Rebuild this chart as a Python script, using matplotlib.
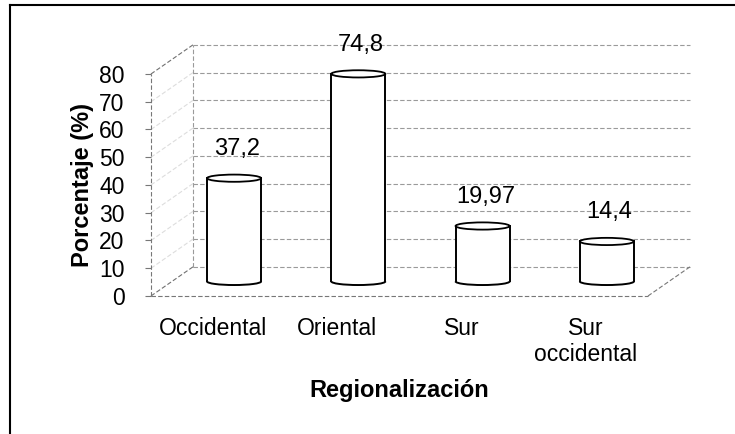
#!/usr/bin/env python
# -*- coding: utf-8 -*-

""" Regionalizacion - cylinder chart with a fake 3d box """

import matplotlib
matplotlib.use('Agg')
import matplotlib.pyplot as plt
from matplotlib.lines import Line2D
from matplotlib.patches import Rectangle, Ellipse, Arc

CATEGORIES = ['Occidental', 'Oriental', 'Sur', 'Sur\noccidental']
VALUES = [37.2, 74.8, 19.97, 14.4]
VALUE_LABELS = ['37,2', '74,8', '19,97', '14,4']
Y_TICKS = [0, 10, 20, 30, 40, 50, 60, 70, 80]

X_LABEL = 'Regionalización'
Y_LABEL = 'Porcentaje (%)'

FONT = 'Liberation Sans'
GRID_COLOR = '#9a9a9a'
GRID_STYLE = (0, (4, 2))

# depth of the 3d box, in category units and value units
DEPTH_X = 0.338
DEPTH_Y = 10.5
BAR_WIDTH = 0.435
CAP_HEIGHT = 2.6


def grid_line(ax, xs, ys, color=GRID_COLOR, lw=0.8):
    """ Dashed gray line drawn outside the clip box too """
    ax.add_line(Line2D(xs, ys, color=color, lw=lw, linestyle=GRID_STYLE,
                       clip_on=False, zorder=1))


def draw_walls(ax, n_cat):
    """ Back wall, side wall and floor of the box """
    x0, x1 = -0.5, n_cat - 0.5
    top = Y_TICKS[-1]

    # back wall gridlines
    for val in Y_TICKS:
        grid_line(ax, [x0 + DEPTH_X, x1 + DEPTH_X],
                  [val + DEPTH_Y, val + DEPTH_Y])
    grid_line(ax, [x0 + DEPTH_X, x0 + DEPTH_X], [DEPTH_Y, top + DEPTH_Y])

    # side wall
    for val in Y_TICKS:
        col = '#707070' if val in (0, top) else '#dddddd'
        grid_line(ax, [x0, x0 + DEPTH_X], [val, val + DEPTH_Y], color=col)
    grid_line(ax, [x0, x0], [0, top], color='#777777')

    # floor
    grid_line(ax, [x0, x1], [0, 0], color='#777777')
    grid_line(ax, [x1, x1 + DEPTH_X], [0, DEPTH_Y], color='#777777')


def draw_cylinder(ax, xpos, value):
    """ White cylinder with black outline standing in the middle of the box """
    cx = xpos + DEPTH_X / 2
    base = DEPTH_Y / 2
    half = BAR_WIDTH / 2
    ax.add_patch(Rectangle((cx - half, base), BAR_WIDTH, value,
                           facecolor='white', edgecolor='none',
                           clip_on=False, zorder=3))
    ax.add_patch(Ellipse((cx, base), BAR_WIDTH, CAP_HEIGHT,
                         facecolor='white', edgecolor='none',
                         clip_on=False, zorder=3))
    ax.add_patch(Arc((cx, base), BAR_WIDTH, CAP_HEIGHT, theta1=180,
                     theta2=360, color='black', lw=1.4,
                     clip_on=False, zorder=4))
    for side in (cx - half, cx + half):
        ax.add_line(Line2D([side, side], [base, base + value],
                           color='black', lw=1.4, clip_on=False, zorder=4))
    ax.add_patch(Ellipse((cx, base + value), BAR_WIDTH, CAP_HEIGHT,
                         facecolor='white', edgecolor='black', lw=1.3,
                         clip_on=False, zorder=5))
    return cx, base + value


def create_chart():
    """ Build the figure """
    plt.rcParams['font.family'] = [FONT, 'DejaVu Sans']

    fig = plt.figure(figsize=(7.35, 4.34), dpi=100)
    ax = fig.add_axes([0.2054, 0.318, 0.6762, 0.5115])

    n_cat = len(CATEGORIES)
    ax.set_xlim(-0.5, n_cat - 0.5)
    ax.set_ylim(0, Y_TICKS[-1])
    for spine in ax.spines.values():
        spine.set_visible(False)

    draw_walls(ax, n_cat)

    for i, (val, lab) in enumerate(zip(VALUES, VALUE_LABELS)):
        cx, ctop = draw_cylinder(ax, i, val)
        ax.annotate(lab, (cx, ctop), xytext=(2, 21),
                    textcoords='offset points', ha='center', va='center',
                    fontsize=17, zorder=6)

    ax.set_yticks(Y_TICKS)
    ax.set_yticklabels([str(t) for t in Y_TICKS])
    ax.tick_params(axis='y', length=4, width=0.8, color='#777777', pad=15,
                   labelsize=16.5)
    ax.set_xticks(range(n_cat))
    ax.set_xticklabels(CATEGORIES)
    ax.tick_params(axis='x', length=0, pad=15, labelsize=16.5)

    ax.set_xlabel(X_LABEL, fontsize=17, fontweight='bold', labelpad=9)
    ax.set_ylabel(Y_LABEL, fontsize=17, fontweight='bold', labelpad=4)

    # page frame from the scan
    fx = 10 / 735
    fy = 1 - 5 / 434
    fig.add_artist(Line2D([fx, fx], [0, fy], color='black', lw=1.5))
    fig.add_artist(Line2D([fx, 1], [fy, fy], color='black', lw=1.5))

    return fig


def main():
    """Main function"""
    fig = create_chart()
    fig.savefig('out.png', dpi=100)
    plt.close('all')


if __name__ == '__main__':
    main()
